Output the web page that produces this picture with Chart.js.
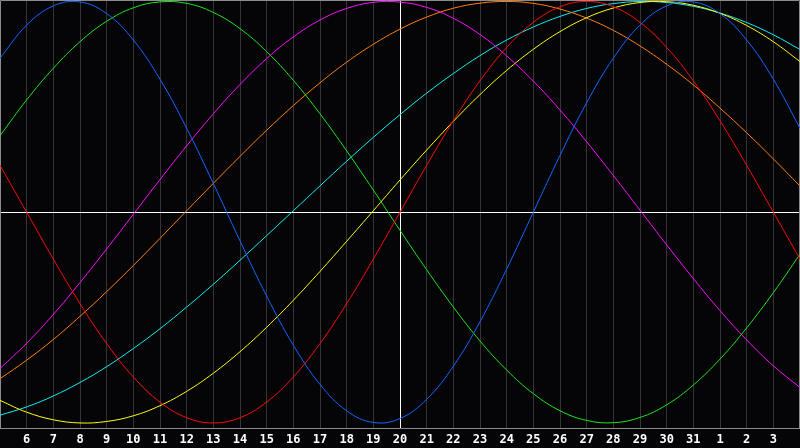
<!DOCTYPE html>
<html>
<head>
<meta charset="utf-8">
<script src="https://cdn.jsdelivr.net/npm/chart.js@4.4.1/dist/chart.umd.min.js"></script>
<style>
html,body{margin:0;padding:0;background:#050508;}
#wrap{width:800px;height:448px;position:relative;}
canvas{display:block;}
</style>
</head>
<body>
<div id="wrap"><canvas id="c" width="800" height="448"></canvas></div>
<script>
// Day labels (first and last sit on the chart edges and are not shown)
const dayLabels = ['5','6','7','8','9','10','11','12','13','14','15','16','17','18','19','20','21','22','23','24','25','26','27','28','29','30','31','1','2','3','4'];
const todayLabel = '20';

const physical = [0.7308,0.8879,0.9791,0.9977,0.9423,0.8170,0.6311,0.3984,0.1362,-0.1362,-0.3984,-0.6311,-0.8170,-0.9423,-0.9977,-0.9791,-0.8879,-0.7308,-0.5196,-0.2698,0,0.2698,0.5196,0.7308,0.8879,0.9791,0.9977,0.9423,0.8170,0.6311,0.3984];
const emotional = [0.2225,0,-0.2225,-0.4339,-0.6235,-0.7818,-0.9010,-0.9749,-1,-0.9749,-0.9010,-0.7818,-0.6235,-0.4339,-0.2225,0,0.2225,0.4339,0.6235,0.7818,0.9010,0.9749,1,0.9749,0.9010,0.7818,0.6235,0.4339,0.2225,0,-0.2225];
const intellectual = [0.363,0.533,0.683,0.809,0.906,0.970,0.998,0.991,0.948,0.871,0.762,0.626,0.467,0.291,0.105,-0.086,-0.273,-0.450,-0.611,-0.749,-0.861,-0.942,-0.988,-0.999,-0.974,-0.914,-0.820,-0.697,-0.549,-0.382,-0.199];
const intuitive = [-0.742,-0.622,-0.485,-0.334,-0.174,-0.010,0.155,0.315,0.467,0.606,0.729,0.832,0.912,0.967,0.996,0.997,0.972,0.920,0.843,0.742,0.622,0.485,0.334,0.174,0.010,-0.155,-0.315,-0.467,-0.606,-0.729,-0.832];
const aesthetic = [-0.893,-0.949,-0.985,-1.000,-0.993,-0.966,-0.918,-0.850,-0.764,-0.662,-0.546,-0.418,-0.281,-0.138,0.007,0.153,0.295,0.431,0.558,0.673,0.773,0.857,0.923,0.969,0.995,0.999,0.982,0.944,0.886,0.809,0.715];
const awareness = [-0.790,-0.702,-0.604,-0.494,-0.377,-0.253,-0.124,0.007,0.137,0.265,0.389,0.506,0.614,0.712,0.797,0.869,0.926,0.968,0.992,1.000,0.991,0.964,0.921,0.863,0.789,0.702,0.604,0.494,0.377,0.253,0.124];
const spiritual = [-0.963,-0.924,-0.872,-0.808,-0.733,-0.647,-0.553,-0.450,-0.342,-0.228,-0.111,0.007,0.125,0.242,0.355,0.463,0.565,0.658,0.743,0.817,0.879,0.929,0.967,0.990,1.000,0.995,0.977,0.945,0.900,0.842,0.772];

const seriesNames = ['Physical','Emotional','Intellectual','Intuitive','Aesthetic','Awareness','Spiritual'];
const seriesData = [physical, emotional, intellectual, intuitive, aesthetic, awareness, spiritual];
const seriesColors = ['#1466ff','#ff0a0a','#1fe61f','#ff10ff','#ffff10','#ff8010','#10f0f0'];

const todayIndex = dayLabels.indexOf(todayLabel);
const lastIndex = dayLabels.length - 1;

const framePlugin = {
  id: 'frame',
  beforeDatasetsDraw(chart) {
    const {ctx, chartArea: a} = chart;
    ctx.save();
    ctx.strokeStyle = '#8c8c8c';
    ctx.lineWidth = 1;
    ctx.beginPath();
    ctx.moveTo(0.5, a.bottom + 0.5);
    ctx.lineTo(0.5, 0.5);
    ctx.lineTo(799.5, 0.5);
    ctx.lineTo(799.5, a.bottom + 0.5);
    ctx.stroke();
    ctx.restore();
  }
};

new Chart(document.getElementById('c'), {
  type: 'line',
  data: {
    labels: dayLabels,
    datasets: seriesData.map((d, i) => ({
      label: seriesNames[i],
      data: d,
      borderColor: seriesColors[i],
      borderWidth: 1,
      pointRadius: 0,
      tension: 0.4,
      fill: false
    }))
  },
  options: {
    responsive: false,
    animation: false,
    layout: {padding: 0, autoPadding: false},
    plugins: {legend: {display: false}, tooltip: {enabled: false}},
    scales: {
      x: {
        type: 'category',
        offset: false,
        afterFit: s => { s.height = 20; s.paddingLeft = 0; s.paddingRight = 0; },
        grid: {
          drawTicks: false,
          lineWidth: 1,
          color: ctx => ctx.index === todayIndex ? '#ffffff' : ((ctx.index === 0 || ctx.index === lastIndex) ? 'rgba(0,0,0,0)' : '#353538')
        },
        border: {display: true, color: '#8c8c8c', width: 1},
        ticks: {
          autoSkip: false,
          maxRotation: 0,
          minRotation: 0,
          padding: 5,
          color: '#ffffff',
          font: {family: 'DejaVu Sans Mono', size: 12, weight: 'bold'},
          callback: (v, i) => (i === 0 || i === lastIndex) ? '' : dayLabels[i]
        }
      },
      y: {
        min: -1.024,
        max: 1.007,
        afterFit: s => { s.width = 0; },
        afterBuildTicks: s => { s.ticks = [{value: 0}]; },
        ticks: {display: false},
        grid: {drawTicks: false, color: '#ffffff', lineWidth: 1},
        border: {display: false}
      }
    }
  },
  plugins: [framePlugin]
});
</script>
</body>
</html>
